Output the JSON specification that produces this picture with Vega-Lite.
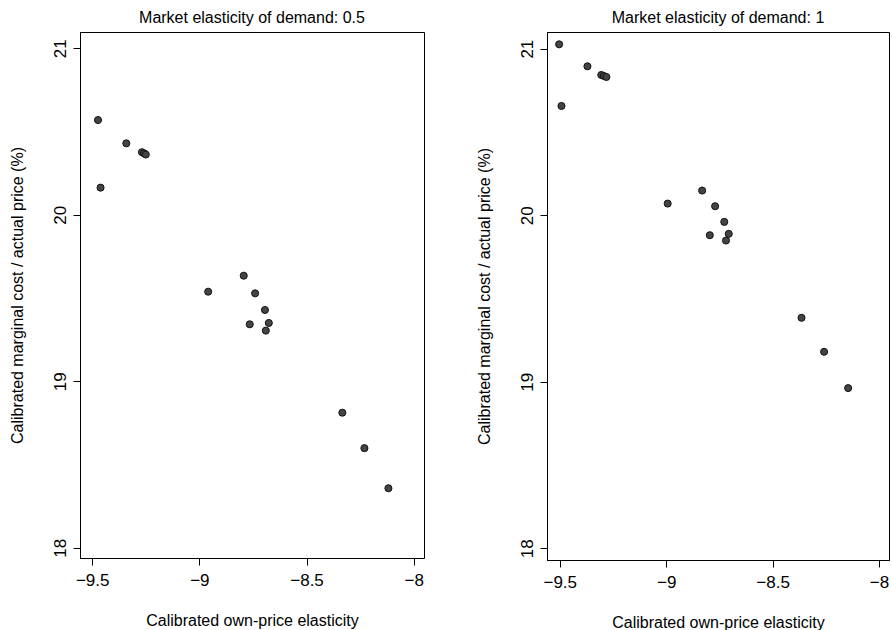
{
  "$schema": "https://vega.github.io/schema/vega-lite/v6.json",
  "background": "white",
  "padding": {"left": 8, "top": 9, "right": 0, "bottom": 0},
  "config": {
    "font": "Liberation Sans",
    "view": {"stroke": "black", "strokeWidth": 1},
    "title": {"fontSize": 16, "fontWeight": "normal", "color": "black", "offset": 6, "anchor": "middle"},
    "axis": {
      "grid": false,
      "domainColor": "black",
      "tickColor": "black",
      "tickSize": 7,
      "labelColor": "black",
      "titleColor": "black",
      "labelFontSize": 17,
      "titleFontSize": 16,
      "titleFontWeight": "normal"
    },
    "axisX": {"labelPadding": 7, "titlePadding": 24, "format": "~g"},
    "axisY": {"labelAngle": -90, "labelAlign": "center", "labelBaseline": "bottom", "labelPadding": 4, "titlePadding": 26}
  },
  "datasets": {
    "e05": [
      {"elasticity": -9.473, "ratio": 20.569},
      {"elasticity": -9.341, "ratio": 20.429},
      {"elasticity": -9.268, "ratio": 20.376},
      {"elasticity": -9.258, "ratio": 20.369},
      {"elasticity": -9.250, "ratio": 20.362},
      {"elasticity": -9.461, "ratio": 20.163},
      {"elasticity": -8.959, "ratio": 19.538},
      {"elasticity": -8.793, "ratio": 19.634},
      {"elasticity": -8.740, "ratio": 19.528},
      {"elasticity": -8.694, "ratio": 19.428},
      {"elasticity": -8.765, "ratio": 19.342},
      {"elasticity": -8.676, "ratio": 19.350},
      {"elasticity": -8.690, "ratio": 19.304},
      {"elasticity": -8.333, "ratio": 18.811},
      {"elasticity": -8.230, "ratio": 18.598},
      {"elasticity": -8.118, "ratio": 18.357}
    ],
    "e1": [
      {"elasticity": -9.503, "ratio": 21.026},
      {"elasticity": -9.370, "ratio": 20.894},
      {"elasticity": -9.305, "ratio": 20.842},
      {"elasticity": -9.293, "ratio": 20.836},
      {"elasticity": -9.281, "ratio": 20.830},
      {"elasticity": -9.492, "ratio": 20.656},
      {"elasticity": -8.993, "ratio": 20.070},
      {"elasticity": -8.831, "ratio": 20.148},
      {"elasticity": -8.770, "ratio": 20.054},
      {"elasticity": -8.727, "ratio": 19.960},
      {"elasticity": -8.795, "ratio": 19.880},
      {"elasticity": -8.706, "ratio": 19.888},
      {"elasticity": -8.719, "ratio": 19.848},
      {"elasticity": -8.364, "ratio": 19.384},
      {"elasticity": -8.258, "ratio": 19.180},
      {"elasticity": -8.145, "ratio": 18.962}
    ]
  },
  "spacing": 50,
  "hconcat": [
    {
      "title": "Market elasticity of demand: 0.5",
      "width": 344,
      "height": 526,
      "data": {"name": "e05"},
      "mark": {"type": "point", "filled": true, "shape": "circle", "size": 50, "fill": "#444444", "stroke": "#111111", "strokeWidth": 1, "opacity": 1},
      "encoding": {
        "x": {"field": "elasticity", "type": "quantitative", "title": "Calibrated own-price elasticity",
              "scale": {"domain": [-9.557, -7.952], "nice": false, "zero": false},
              "axis": {"values": [-9.5, -9, -8.5, -8]}},
        "y": {"field": "ratio", "type": "quantitative", "title": "Calibrated marginal cost / actual price (%)",
              "scale": {"domain": [17.938, 21.098], "nice": false, "zero": false},
              "axis": {"values": [18, 19, 20, 21]}}
      }
    },
    {
      "title": "Market elasticity of demand: 1",
      "width": 342,
      "height": 528,
      "data": {"name": "e1"},
      "mark": {"type": "point", "filled": true, "shape": "circle", "size": 50, "fill": "#444444", "stroke": "#111111", "strokeWidth": 1, "opacity": 1},
      "encoding": {
        "x": {"field": "elasticity", "type": "quantitative", "title": "Calibrated own-price elasticity",
              "scale": {"domain": [-9.56, -7.953], "nice": false, "zero": false},
              "axis": {"values": [-9.5, -9, -8.5, -8]}},
        "y": {"field": "ratio", "type": "quantitative", "title": "Calibrated marginal cost / actual price (%)",
              "scale": {"domain": [17.93, 21.1], "nice": false, "zero": false},
              "axis": {"values": [18, 19, 20, 21]}}
      }
    }
  ]
}
